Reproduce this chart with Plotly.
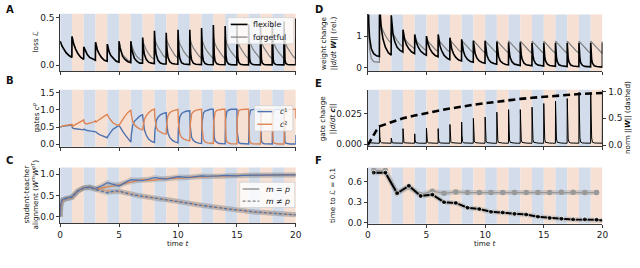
import plotly.graph_objects as go

# ---------------- data ----------------
T_OFF = [0.0, 0.03, 0.08, 0.15, 0.3, 0.5, 0.75, 0.99]   # sample offsets inside each unit block
N_BLOCKS = 20

# Panel A: loss per block (flexible / forgetful)
loss_flexible = [
    [0.25, 0.24, 0.22, 0.20, 0.17, 0.13, 0.10, 0.08],
    [0.30, 0.28, 0.25, 0.22, 0.17, 0.12, 0.08, 0.06],
    [0.19, 0.18, 0.16, 0.14, 0.11, 0.08, 0.06, 0.05],
    [0.24, 0.22, 0.19, 0.16, 0.12, 0.08, 0.05, 0.04],
    [0.22, 0.20, 0.17, 0.14, 0.10, 0.07, 0.04, 0.03],
    [0.25, 0.22, 0.18, 0.14, 0.09, 0.06, 0.035, 0.025],
    [0.25, 0.21, 0.16, 0.12, 0.07, 0.04, 0.02, 0.02],
    [0.29, 0.23, 0.17, 0.11, 0.06, 0.03, 0.02, 0.015],
    [0.36, 0.27, 0.18, 0.11, 0.05, 0.02, 0.01, 0.01],
    [0.34, 0.24, 0.15, 0.08, 0.035, 0.015, 0.01, 0.008],
    [0.37, 0.25, 0.14, 0.07, 0.025, 0.01, 0.006, 0.005],
    [0.37, 0.23, 0.12, 0.055, 0.02, 0.008, 0.005, 0.004],
    [0.39, 0.22, 0.11, 0.045, 0.015, 0.006, 0.004, 0.003],
    [0.42, 0.22, 0.10, 0.04, 0.012, 0.005, 0.003, 0.003],
    [0.41, 0.20, 0.09, 0.035, 0.01, 0.004, 0.003, 0.002],
    [0.42, 0.19, 0.08, 0.03, 0.008, 0.004, 0.002, 0.002],
    [0.43, 0.18, 0.07, 0.025, 0.007, 0.003, 0.002, 0.002],
    [0.44, 0.17, 0.065, 0.02, 0.006, 0.003, 0.002, 0.002],
    [0.45, 0.16, 0.06, 0.018, 0.005, 0.003, 0.002, 0.002],
    [0.46, 0.15, 0.055, 0.015, 0.005, 0.002, 0.002, 0.002],
]
loss_flexible_end = 0.49
loss_forgetful = [
    [0.25, 0.24, 0.22, 0.20, 0.17, 0.13, 0.10, 0.08],
    [0.30, 0.28, 0.25, 0.22, 0.17, 0.12, 0.08, 0.06],
    [0.19, 0.18, 0.16, 0.14, 0.11, 0.08, 0.06, 0.05],
    [0.24, 0.22, 0.19, 0.16, 0.12, 0.08, 0.05, 0.04],
    [0.22, 0.20, 0.17, 0.14, 0.10, 0.07, 0.045, 0.035],
    [0.25, 0.23, 0.19, 0.16, 0.11, 0.08, 0.05, 0.04],
    [0.25, 0.23, 0.20, 0.17, 0.13, 0.09, 0.06, 0.05],
    [0.28, 0.26, 0.23, 0.20, 0.16, 0.12, 0.08, 0.06],
    [0.29, 0.27, 0.25, 0.23, 0.19, 0.15, 0.10, 0.07],
    [0.29, 0.27, 0.25, 0.23, 0.19, 0.15, 0.10, 0.07],
    [0.29, 0.27, 0.25, 0.22, 0.19, 0.14, 0.10, 0.07],
    [0.29, 0.27, 0.25, 0.22, 0.18, 0.14, 0.10, 0.07],
    [0.29, 0.27, 0.25, 0.22, 0.18, 0.14, 0.10, 0.065],
    [0.29, 0.27, 0.25, 0.22, 0.18, 0.14, 0.10, 0.065],
    [0.29, 0.27, 0.25, 0.22, 0.18, 0.14, 0.10, 0.065],
    [0.29, 0.27, 0.25, 0.22, 0.18, 0.14, 0.095, 0.065],
    [0.29, 0.27, 0.25, 0.22, 0.18, 0.14, 0.095, 0.065],
    [0.29, 0.27, 0.25, 0.22, 0.18, 0.14, 0.095, 0.065],
    [0.29, 0.27, 0.25, 0.22, 0.18, 0.14, 0.095, 0.065],
    [0.29, 0.27, 0.25, 0.22, 0.18, 0.14, 0.095, 0.065],
]
loss_forgetful_end = 0.29

# Panel B: gates c1 (blue) and c2 (orange)
gate_c1 = [
    [0.50, 0.50, 0.51, 0.52, 0.53, 0.54, 0.55, 0.56],
    [0.56, 0.48, 0.46, 0.46, 0.45, 0.44, 0.43, 0.42],
    [0.42, 0.44, 0.43, 0.42, 0.40, 0.39, 0.38, 0.37],
    [0.37, 0.36, 0.34, 0.32, 0.29, 0.26, 0.22, 0.19],
    [0.20, 0.22, 0.25, 0.29, 0.36, 0.44, 0.51, 0.55],
    [0.55, 0.53, 0.50, 0.46, 0.38, 0.28, 0.15, 0.06],
    [0.06, 0.25, 0.42, 0.55, 0.67, 0.75, 0.82, 0.86],
    [0.86, 0.70, 0.55, 0.42, 0.27, 0.15, 0.08, 0.05],
    [0.05, 0.35, 0.55, 0.68, 0.79, 0.86, 0.90, 0.92],
    [0.92, 0.65, 0.45, 0.32, 0.20, 0.12, 0.07, 0.04],
    [0.04, 0.45, 0.68, 0.80, 0.89, 0.94, 0.97, 0.98],
    [0.98, 0.55, 0.32, 0.20, 0.11, 0.06, 0.03, 0.02],
    [0.02, 0.60, 0.82, 0.91, 0.97, 1.00, 1.02, 1.02],
    [1.02, 0.45, 0.20, 0.10, 0.05, 0.02, 0.01, 0.01],
    [0.01, 0.70, 0.90, 0.96, 1.00, 1.02, 1.02, 1.02],
    [1.02, 0.35, 0.12, 0.05, 0.02, 0.01, 0.005, 0.005],
    [0.005, 0.78, 0.94, 0.99, 1.01, 1.02, 1.02, 1.02],
    [1.02, 0.30, 0.10, 0.04, 0.015, 0.01, 0.005, 0.005],
    [0.005, 0.82, 0.96, 1.00, 1.01, 1.02, 1.02, 1.02],
    [1.02, 0.26, 0.08, 0.03, 0.01, 0.005, 0.005, 0.005],
]
gate_c1_end = 0.27
gate_c2 = [
    [0.50, 0.50, 0.51, 0.52, 0.54, 0.55, 0.57, 0.58],
    [0.58, 0.52, 0.53, 0.55, 0.58, 0.62, 0.66, 0.71],
    [0.71, 0.64, 0.61, 0.60, 0.60, 0.61, 0.64, 0.68],
    [0.68, 0.65, 0.66, 0.68, 0.72, 0.77, 0.82, 0.87],
    [0.87, 0.84, 0.81, 0.77, 0.70, 0.62, 0.57, 0.55],
    [0.55, 0.57, 0.60, 0.64, 0.72, 0.82, 0.93, 1.00],
    [1.00, 0.88, 0.76, 0.66, 0.57, 0.50, 0.45, 0.42],
    [0.42, 0.52, 0.63, 0.72, 0.83, 0.92, 0.99, 1.03],
    [1.03, 0.80, 0.62, 0.50, 0.40, 0.35, 0.31, 0.30],
    [0.30, 0.55, 0.72, 0.83, 0.92, 0.97, 1.00, 1.02],
    [1.02, 0.65, 0.42, 0.30, 0.20, 0.15, 0.12, 0.10],
    [0.10, 0.55, 0.78, 0.88, 0.95, 0.99, 1.01, 1.02],
    [1.02, 0.50, 0.25, 0.14, 0.07, 0.04, 0.03, 0.02],
    [0.02, 0.65, 0.86, 0.94, 0.99, 1.01, 1.02, 1.02],
    [1.02, 0.40, 0.15, 0.07, 0.03, 0.015, 0.01, 0.01],
    [0.01, 0.75, 0.92, 0.98, 1.01, 1.02, 1.02, 1.02],
    [1.02, 0.30, 0.10, 0.04, 0.015, 0.01, 0.005, 0.005],
    [0.005, 0.80, 0.95, 0.99, 1.01, 1.02, 1.02, 1.02],
    [1.02, 0.26, 0.08, 0.03, 0.01, 0.005, 0.005, 0.005],
    [0.005, 0.84, 0.96, 1.00, 1.01, 1.02, 1.02, 1.02],
]
gate_c2_end = 0.75

# Panel C: student-teacher alignment
align_t = [0, 0.05, 0.2, 0.5, 1, 1.5, 2, 2.5, 3, 3.5, 4, 4.5, 5, 5.5, 6, 6.5, 7, 7.5, 8, 8.5,
           9, 9.5, 10, 10.5, 11, 11.5, 12, 12.5, 13, 13.5, 14, 14.5, 15, 15.5, 16, 16.5, 17,
           17.5, 18, 18.5, 19, 19.5, 20]
align_same_blue = [0.0, 0.30, 0.40, 0.43, 0.47, 0.60, 0.68, 0.70, 0.66, 0.72, 0.80, 0.76, 0.72,
                   0.80, 0.87, 0.86, 0.85, 0.88, 0.92, 0.90, 0.88, 0.91, 0.94, 0.93, 0.92, 0.94,
                   0.96, 0.95, 0.95, 0.96, 0.97, 0.96, 0.96, 0.97, 0.98, 0.975, 0.975, 0.98,
                   0.98, 0.98, 0.98, 0.98, 0.98]
align_same_orange = [0.0, 0.25, 0.38, 0.42, 0.45, 0.60, 0.68, 0.69, 0.65, 0.68, 0.70, 0.72,
                     0.75, 0.77, 0.80, 0.83, 0.87, 0.86, 0.86, 0.88, 0.90, 0.90, 0.90, 0.91,
                     0.93, 0.93, 0.93, 0.94, 0.95, 0.95, 0.95, 0.96, 0.97, 0.97, 0.97, 0.97,
                     0.98, 0.98, 0.98, 0.98, 0.98, 0.98, 0.98]
align_diff_blue = [0.0, 0.30, 0.40, 0.43, 0.45, 0.60, 0.67, 0.68, 0.64, 0.60, 0.56, 0.60, 0.60,
                   0.56, 0.52, 0.50, 0.48, 0.45, 0.43, 0.41, 0.40, 0.37, 0.35, 0.33, 0.31,
                   0.28, 0.26, 0.24, 0.22, 0.20, 0.19, 0.17, 0.16, 0.14, 0.12, 0.11, 0.10,
                   0.09, 0.08, 0.07, 0.06, 0.05, 0.04]
align_diff_orange = [0.0, 0.25, 0.38, 0.42, 0.45, 0.60, 0.67, 0.69, 0.65, 0.63, 0.61, 0.58,
                     0.59, 0.57, 0.54, 0.50, 0.47, 0.46, 0.44, 0.42, 0.39, 0.38, 0.36, 0.34,
                     0.31, 0.29, 0.26, 0.25, 0.23, 0.21, 0.19, 0.18, 0.16, 0.14, 0.12, 0.11,
                     0.10, 0.09, 0.08, 0.07, 0.06, 0.05, 0.04]

# Panel D: weight change (relative)
wchange_flexible = [
    [3.00, 2.20, 1.40, 0.95, 0.60, 0.45, 0.38, 0.36],
    [2.50, 2.00, 1.60, 1.25, 0.90, 0.65, 0.48, 0.40],
    [1.65, 1.45, 1.25, 1.05, 0.82, 0.65, 0.55, 0.50],
    [1.20, 1.10, 0.98, 0.88, 0.72, 0.60, 0.50, 0.45],
    [1.05, 0.97, 0.88, 0.79, 0.65, 0.53, 0.45, 0.40],
    [1.00, 0.92, 0.83, 0.74, 0.60, 0.48, 0.39, 0.35],
    [1.05, 0.95, 0.83, 0.70, 0.54, 0.40, 0.31, 0.26],
    [0.95, 0.85, 0.72, 0.60, 0.45, 0.33, 0.25, 0.22],
    [0.90, 0.78, 0.64, 0.52, 0.37, 0.27, 0.20, 0.18],
    [0.85, 0.72, 0.57, 0.45, 0.31, 0.22, 0.17, 0.15],
    [0.85, 0.70, 0.53, 0.40, 0.26, 0.18, 0.14, 0.12],
    [0.82, 0.66, 0.48, 0.35, 0.22, 0.15, 0.11, 0.10],
    [0.80, 0.62, 0.44, 0.31, 0.19, 0.12, 0.09, 0.08],
    [0.80, 0.60, 0.41, 0.28, 0.16, 0.10, 0.08, 0.07],
    [0.78, 0.57, 0.38, 0.25, 0.14, 0.09, 0.07, 0.06],
    [0.78, 0.55, 0.35, 0.22, 0.12, 0.08, 0.06, 0.05],
    [0.78, 0.53, 0.33, 0.20, 0.10, 0.07, 0.05, 0.045],
    [0.78, 0.52, 0.31, 0.18, 0.09, 0.06, 0.045, 0.04],
    [0.78, 0.50, 0.29, 0.16, 0.08, 0.05, 0.04, 0.035],
    [0.78, 0.48, 0.27, 0.15, 0.07, 0.045, 0.035, 0.03],
]
wchange_flexible_end = 0.80
wchange_forgetful = [
    [3.00, 2.00, 1.10, 0.60, 0.30, 0.20, 0.18, 0.18],
    [1.45, 1.42, 1.37, 1.30, 1.17, 1.02, 0.87, 0.78],
    [1.20, 1.17, 1.13, 1.08, 0.98, 0.86, 0.74, 0.66],
    [1.00, 0.98, 0.95, 0.91, 0.84, 0.75, 0.66, 0.60],
    [0.92, 0.90, 0.88, 0.85, 0.78, 0.70, 0.61, 0.55],
    [0.90, 0.88, 0.86, 0.83, 0.76, 0.68, 0.58, 0.52],
    [0.88, 0.87, 0.85, 0.82, 0.75, 0.67, 0.57, 0.50],
    [0.87, 0.86, 0.84, 0.81, 0.75, 0.66, 0.56, 0.49],
    [0.86, 0.85, 0.83, 0.80, 0.74, 0.66, 0.56, 0.48],
    [0.86, 0.85, 0.83, 0.80, 0.74, 0.66, 0.55, 0.48],
    [0.85, 0.84, 0.82, 0.79, 0.73, 0.65, 0.55, 0.47],
    [0.85, 0.84, 0.82, 0.79, 0.73, 0.65, 0.55, 0.47],
    [0.85, 0.84, 0.82, 0.79, 0.73, 0.65, 0.55, 0.47],
    [0.84, 0.83, 0.81, 0.78, 0.72, 0.64, 0.54, 0.46],
    [0.84, 0.83, 0.81, 0.78, 0.72, 0.64, 0.54, 0.46],
    [0.84, 0.83, 0.81, 0.78, 0.72, 0.64, 0.54, 0.46],
    [0.84, 0.83, 0.81, 0.78, 0.72, 0.64, 0.54, 0.46],
    [0.84, 0.83, 0.81, 0.78, 0.72, 0.64, 0.54, 0.46],
    [0.84, 0.83, 0.81, 0.78, 0.72, 0.64, 0.54, 0.46],
    [0.84, 0.83, 0.81, 0.78, 0.72, 0.64, 0.54, 0.45],
]
wchange_forgetful_end = 0.84

# Panel E: gate change (left axis) and weight norm (right axis, dashed)
gchange = [
    [0.0002, 0.0008, 0.0012, 0.0012, 0.0010, 0.0009, 0.0008, 0.0008],
    [0.0145, 0.0060, 0.0018, 0.0012, 0.0010, 0.0009, 0.0008, 0.0008],
    [0.0050, 0.0020, 0.0012, 0.0010, 0.0009, 0.0008, 0.0008, 0.0008],
    [0.0126, 0.0050, 0.0016, 0.0011, 0.0009, 0.0008, 0.0008, 0.0008],
    [0.0084, 0.0034, 0.0013, 0.0010, 0.0009, 0.0008, 0.0008, 0.0008],
    [0.0130, 0.0052, 0.0017, 0.0011, 0.0009, 0.0008, 0.0008, 0.0008],
    [0.0126, 0.0050, 0.0016, 0.0011, 0.0009, 0.0008, 0.0008, 0.0008],
    [0.0160, 0.0064, 0.0020, 0.0012, 0.0010, 0.0009, 0.0008, 0.0008],
    [0.0180, 0.0072, 0.0022, 0.0012, 0.0010, 0.0009, 0.0008, 0.0008],
    [0.0210, 0.0084, 0.0026, 0.0013, 0.0010, 0.0009, 0.0008, 0.0008],
    [0.0220, 0.0088, 0.0027, 0.0013, 0.0010, 0.0009, 0.0008, 0.0008],
    [0.0260, 0.0104, 0.0031, 0.0014, 0.0010, 0.0009, 0.0008, 0.0008],
    [0.0280, 0.0112, 0.0034, 0.0014, 0.0010, 0.0009, 0.0008, 0.0008],
    [0.0280, 0.0112, 0.0034, 0.0014, 0.0010, 0.0009, 0.0008, 0.0008],
    [0.0300, 0.0120, 0.0036, 0.0015, 0.0010, 0.0009, 0.0008, 0.0008],
    [0.0330, 0.0132, 0.0040, 0.0015, 0.0010, 0.0009, 0.0008, 0.0008],
    [0.0350, 0.0140, 0.0042, 0.0015, 0.0010, 0.0009, 0.0008, 0.0008],
    [0.0370, 0.0148, 0.0044, 0.0016, 0.0010, 0.0009, 0.0008, 0.0008],
    [0.0420, 0.0168, 0.0050, 0.0016, 0.0010, 0.0009, 0.0008, 0.0008],
    [0.0420, 0.0168, 0.0050, 0.0016, 0.0010, 0.0009, 0.0008, 0.0008],
]
gchange_end = 0.043
norm_t = [0, 0.25, 0.5, 0.75, 1, 1.5, 2, 3, 4, 5, 6, 7, 8, 9, 10, 11, 12, 13, 14, 15, 16, 17,
          18, 19, 20]
norm_w = [0.0, 0.10, 0.20, 0.28, 0.35, 0.39, 0.43, 0.50, 0.55, 0.60, 0.64, 0.68, 0.72, 0.75,
          0.78, 0.81, 0.84, 0.86, 0.88, 0.90, 0.92, 0.94, 0.95, 0.96, 0.97]

# Panel F: time to loss = 0.1
ttl_t = [0.5, 1.5, 2.5, 3.5, 4.5, 5.5, 6.5, 7.5, 8.5, 9.5, 10.5, 11.5, 12.5, 13.5, 14.5, 15.5,
         16.5, 17.5, 18.5, 19.5]
ttl_flexible = [0.73, 0.73, 0.43, 0.54, 0.39, 0.41, 0.30, 0.29, 0.22, 0.20, 0.16, 0.15, 0.13,
                0.12, 0.09, 0.07, 0.06, 0.05, 0.05, 0.045]
ttl_flexible_end = 0.035
ttl_forgetful = [0.76, 0.76, 0.43, 0.52, 0.41, 0.46, 0.43, 0.45, 0.44, 0.44, 0.44, 0.44, 0.44,
                 0.44, 0.44, 0.44, 0.445, 0.445, 0.44, 0.44]

# legend labels
legend_A = ["flexible", "forgetful"]
legend_B = ["<i>c</i>¹", "<i>c</i>²"]
legend_C = ["<i>m</i> = <i>p</i>", "<i>m</i> ≠ <i>p</i>"]

# ---------------- styling ----------------
BLUE = "#4C72B0"
ORANGE = "#DD8452"
STRIPE_BLUE = "#d2dcea"
STRIPE_ORANGE = "#f6e0d4"
GREY = "#808080"
BAND = "rgba(150,150,150,0.35)"
FONT = "DejaVu Sans"
W, H = 640, 268


def block_series(blocks, end_value):
    xs, ys = [], []
    for k, row in enumerate(blocks):
        for off, v in zip(T_OFF, row):
            xs.append(k + off)
            ys.append(v)
    xs.append(N_BLOCKS)
    ys.append(end_value)
    return xs, ys


def px_x(p):
    return p / W


def px_y(p):
    return 1 - p / H


LEFT = [px_x(58), px_x(297)]
RIGHT = [px_x(370), px_x(608)]
DOM = {
    1: (LEFT, [px_y(70), px_y(11)]),
    2: (LEFT, [px_y(147.7), px_y(89)]),
    3: (LEFT, [px_y(226), px_y(169)]),
    4: (RIGHT, [px_y(70), px_y(11.7)]),
    5: (RIGHT, [px_y(147), px_y(89)]),
    6: (RIGHT, [px_y(226.7), px_y(169)]),
}
YRANGE = {1: [-0.065, 0.54], 2: [-0.077, 1.594], 3: [-0.154, 1.154],
          4: [-0.1, 1.68], 5: [-0.0016, 0.0442], 6: [-0.014, 0.804]}
YTICKS = {1: [0, 0.5], 2: [0, 0.5, 1.0, 1.5], 3: [0, 0.5, 1.0], 4: [0, 1],
          5: [0, 0.025], 6: [0, 0.3, 0.6]}
YFMT = {1: ".1f", 2: ".1f", 3: ".1f", 4: "d", 5: ".3f", 6: ".1f"}

fig = go.Figure()


def add(n, x, y, **kw):
    sfx = "" if n == 1 else str(n)
    fig.add_trace(go.Scatter(x=x, y=y, mode=kw.pop("mode", "lines"), showlegend=False,
                             xaxis="x" + sfx, yaxis="y" + sfx, **kw))


# Panel A
x, y = block_series(loss_forgetful, loss_forgetful_end)
add(1, x, y, name="forgetful", line=dict(color=GREY, width=1.2))
x, y = block_series(loss_flexible, loss_flexible_end)
add(1, x, y, name="flexible", line=dict(color="black", width=1.6))

# Panel B
x, y = block_series(gate_c1, gate_c1_end)
add(2, x, y, name="c1", line=dict(color=BLUE, width=1.4))
x, y = block_series(gate_c2, gate_c2_end)
add(2, x, y, name="c2", line=dict(color=ORANGE, width=1.4))

# Panel C
for vals in (align_same_blue, align_same_orange, align_diff_blue, align_diff_orange):
    add(3, align_t, vals, line=dict(color=BAND, width=5), hoverinfo="skip")
add(3, align_t, align_same_orange, line=dict(color=ORANGE, width=1.2))
add(3, align_t, align_same_blue, line=dict(color=BLUE, width=1.2))
add(3, align_t, align_diff_orange, line=dict(color=ORANGE, width=1.2, dash="3px,2px"))
add(3, align_t, align_diff_blue, line=dict(color=BLUE, width=1.2, dash="3px,2px"))

# Panel D
x, y = block_series(wchange_forgetful, wchange_forgetful_end)
add(4, x, y, line=dict(color=GREY, width=1.2))
x, y = block_series(wchange_flexible, wchange_flexible_end)
add(4, x, y, line=dict(color="black", width=1.6))

# Panel E
x, y = block_series(gchange, gchange_end)
add(5, x, y, line=dict(color="black", width=1.0))
fig.add_trace(go.Scatter(x=norm_t, y=norm_w, mode="lines", xaxis="x5", yaxis="y7", showlegend=False,
                         line=dict(color="black", width=2.6, dash="7px,4px")))

# Panel F
add(6, ttl_t, ttl_forgetful, line=dict(color=BAND, width=5), hoverinfo="skip")
add(6, ttl_t + [N_BLOCKS], ttl_flexible + [ttl_flexible_end], line=dict(color=BAND, width=5), hoverinfo="skip")
add(6, ttl_t, ttl_forgetful, mode="lines+markers",
    line=dict(color="#999999", width=1.2), marker=dict(color="#999999", size=5.5))
add(6, ttl_t + [N_BLOCKS], ttl_flexible + [ttl_flexible_end], mode="lines+markers",
    line=dict(color="black", width=2.0), marker=dict(color="black", size=[5] * len(ttl_t) + [0]))

# ---------------- axes ----------------
axis_common = dict(showgrid=False, zeroline=False, showline=True, linecolor="#222222", linewidth=0.9,
                   ticks="outside", ticklen=3, tickwidth=0.9, tickcolor="#222222",
                   tickfont=dict(size=9, color="#222222"), fixedrange=True)
layout = {}
for n in range(1, 7):
    sfx = "" if n == 1 else str(n)
    xd, yd = DOM[n]
    layout["xaxis" + sfx] = dict(axis_common, domain=xd, range=[0, 20], anchor="y" + sfx,
                                 tickvals=[0, 5, 10, 15, 20],
                                 showticklabels=(n in (3, 6)))
    layout["yaxis" + sfx] = dict(axis_common, domain=yd, range=YRANGE[n], anchor="x" + sfx,
                                 tickvals=YTICKS[n], tickformat=YFMT[n])
layout["yaxis7"] = dict(axis_common, overlaying="y5", side="right", anchor="x5",
                        range=[-0.018, 1.031], tickvals=[0, 0.5, 1.0], tickformat=".1f")

# background stripes
shapes = []
for n in range(1, 7):
    sfx = "" if n == 1 else str(n)
    for k in range(N_BLOCKS):
        shapes.append(dict(type="rect", xref="x" + sfx, yref="y" + sfx + " domain",
                           x0=k, x1=k + 1, y0=0, y1=1, layer="below", line=dict(width=0),
                           fillcolor=STRIPE_BLUE if k % 2 == 0 else STRIPE_ORANGE))

ann = []


def text(xp, yp, s, size=7.2, angle=0, bold=False, xanchor="center", yanchor="middle"):
    ann.append(dict(x=px_x(xp), y=px_y(yp), xref="paper", yref="paper", text=f"<b>{s}</b>" if bold else s,
                    showarrow=False, textangle=angle, xanchor=xanchor, yanchor=yanchor,
                    font=dict(size=size, family=FONT, color="#111111")))


# hand-drawn legends (matplotlib-like compact boxes)
def legend_box(x0, y0, x1, y1, entries):
    shapes.append(dict(type="rect", xref="paper", yref="paper", x0=px_x(x0), x1=px_x(x1),
                       y0=px_y(y1), y1=px_y(y0), layer="above", fillcolor="rgba(255,255,255,0.8)",
                       line=dict(color="#d0d0d0", width=0.8)))
    for (lx0, lx1, ly, color, width, dash, label, tx) in entries:
        shapes.append(dict(type="line", xref="paper", yref="paper", x0=px_x(lx0), x1=px_x(lx1),
                           y0=px_y(ly), y1=px_y(ly), layer="above",
                           line=dict(color=color, width=width, dash=dash)))
        text(tx, ly, label, size=7.8, xanchor="left")


legend_box(228, 15, 295, 42, [
    (231, 248, 22, "black", 1.6, "solid", legend_A[0], 252),
    (231, 248, 35, GREY, 1.2, "solid", legend_A[1], 252),
])
legend_box(255, 105.5, 294, 131.5, [
    (258, 273, 111.5, BLUE, 1.4, "solid", legend_B[0], 279),
    (258, 273, 124.5, ORANGE, 1.4, "solid", legend_B[1], 279),
])
legend_box(240, 184, 296, 210, [
    (243, 260, 191, GREY, 1.2, "solid", legend_C[0], 265),
    (243, 260, 203.5, GREY, 1.2, "3px,2px", legend_C[1], 265),
])

for letter, xp, yp in [("A", 7, 7), ("B", 7, 80), ("C", 7, 162), ("D", 320, 7), ("E", 320, 83), ("F", 320, 162)]:
    text(xp, yp, letter, size=10, bold=True)

text(33, 40, "loss ℒ", angle=-90)
text(33, 118, "gates <i>c</i><sup><i>p</i></sup>", angle=-90)
text(28, 197, "student-teacher<br>alignment (<i>W</i><sup><i>m</i></sup><i>W</i><sup><i>p</i>T</sup>)", angle=-90)
text(330, 41, "weight change<br>||<i>d</i>/<i>dt</i> <b><i>W</i></b>|| (rel.)", angle=-90)
text(329, 118, "gate change<br>||<i>d</i>/<i>dt</i> <b><i>c</i></b>||", angle=-90)
text(634, 118, "norm ||<b><i>W</i></b>|| (dashed)", angle=-90)
text(335, 198, "time to ℒ = 0.1", angle=-90)
text(177.5, 246.5, "time <i>t</i>")
text(489, 246.5, "time <i>t</i>")

fig.update_layout(
    **layout,
    shapes=shapes,
    annotations=ann,
    width=W, height=H, autosize=False,
    margin=dict(l=0, r=0, t=0, b=0),
    paper_bgcolor="white", plot_bgcolor="white",
    font=dict(family=FONT, size=9, color="#222222"),
    showlegend=False,
    hovermode=False,
)

fig.write_html("out.html", config={"displayModeBar": False, "staticPlot": True},
               post_script="document.body.style.margin='0';document.body.style.overflow='hidden';")
